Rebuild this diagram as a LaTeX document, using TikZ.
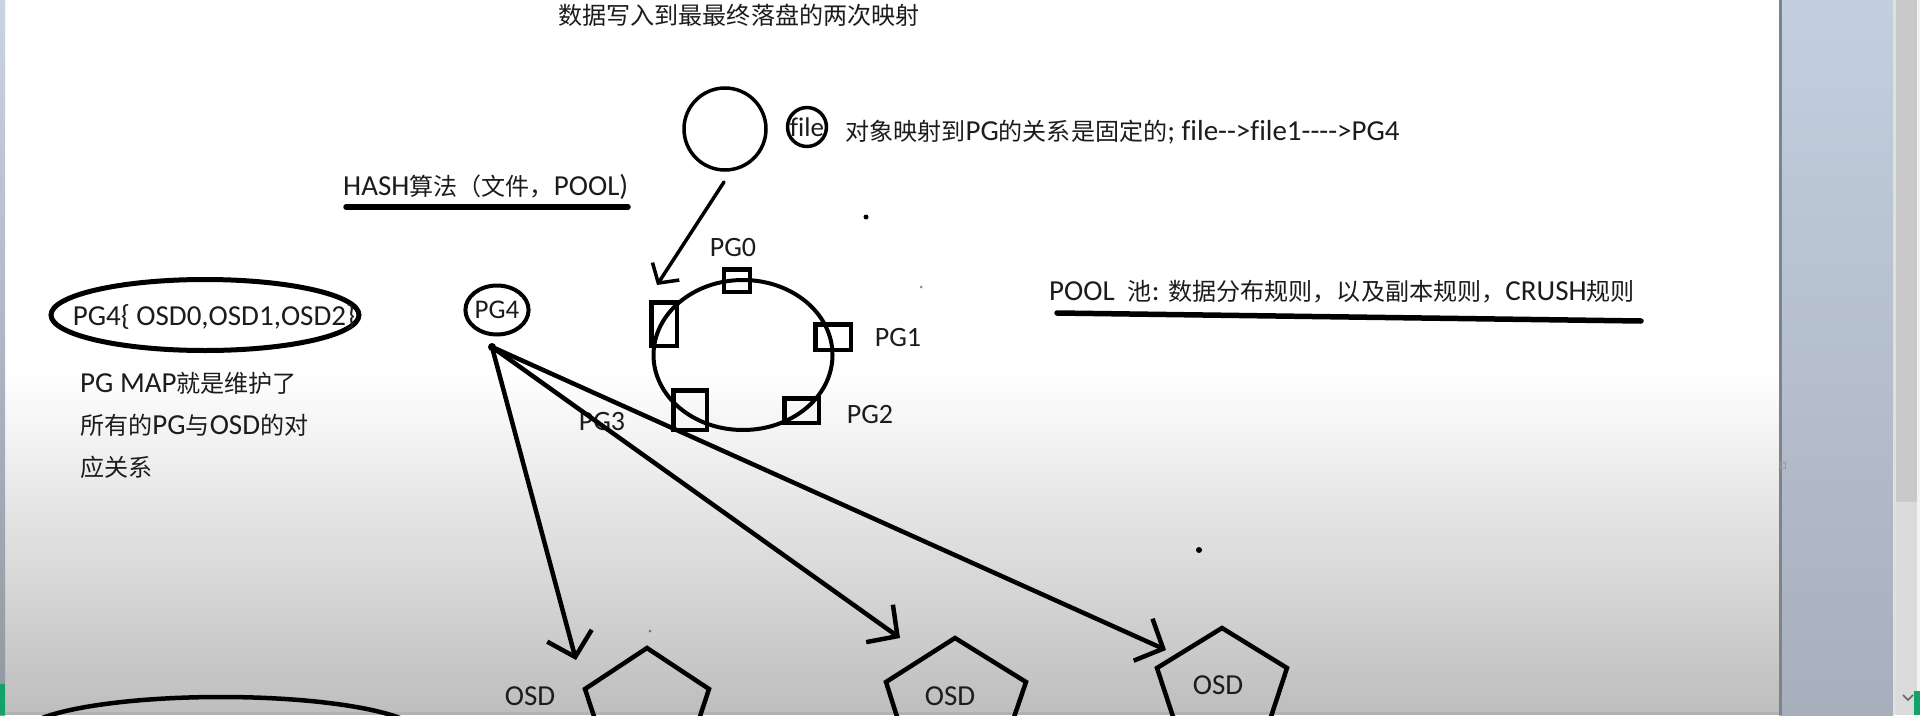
\documentclass[tikz,border=0pt]{standalone}
\usepackage{fontspec}
\setmainfont{Carlito}[Ligatures={TeX,NoCommon}]
\newfontfamily\cjkfont{Noto Sans CJK SC}[Scale=0.83]
\newcommand\zh[1]{{\cjkfont #1}}
\usetikzlibrary{arrows.meta,shapes.geometric}
\definecolor{ink}{HTML}{1C1C1C}
\definecolor{panelA}{HTML}{C3CFDF}
\definecolor{panelB}{HTML}{CEDAE6}
\definecolor{panelC}{HTML}{A7AFBC}
\definecolor{bggrey}{HTML}{BEBEBE}
\definecolor{greenbar}{HTML}{14A26B}
\begin{document}
\begin{tikzpicture}[x=1pt,y=-1pt,
  txt/.style={inner sep=0pt, anchor=west, text=ink, font=\fontsize{29}{34}\selectfont},
  lbl/.style={inner sep=0pt, text=ink, font=\fontsize{28}{32}\selectfont},
  shp/.style={draw=black, inner sep=0pt},
  box/.style={draw=black, line width=4.5pt, inner sep=0pt, rectangle},
  pent/.style={draw=black, line width=4.5pt, line join=miter},
  uline/.style={line width=5.5pt, line cap=round},
  bigarr/.style={line width=4.5pt, line cap=round, -{Straight Barb[length=22pt,width=46pt]}},
  smallarr/.style={line width=3.5pt, line cap=round, -{Straight Barb[length=14pt,width=32pt]}}
]
\useasboundingbox (0,0) rectangle (1920,715);
\begin{scope}
\clip (0,0) rectangle (1920,715);
% background
\fill[white] (0,0) rectangle (1779,372);
\shade[top color=white, bottom color=bggrey] (0,372) rectangle (1779,712);
\fill[black!30] (0,712) rectangle (1779,715);
\shade[top color=panelA!90!white, bottom color=panelC!80!black!90] (0,0) rectangle (5,715);
\fill[greenbar] (0,684) rectangle (5,715);
\shade[top color=panelA, middle color=panelB, bottom color=panelC] (1779,0) rectangle (1893,715);
\fill[black!25!panelC] (1779,0) rectangle (1782,715);
\draw[black!40, line width=0.8pt] (1780,462) rectangle (1785,468);
\fill[white!88!black] (1893,0) rectangle (1896,715);
\fill[black!21] (1896,0) rectangle (1917,502);
\fill[black!14] (1896,502) rectangle (1917,715);
\fill[white!95!black] (1917,0) rectangle (1920,715);
\fill[greenbar] (1914,691) rectangle (1920,715);
\draw[black!60, line width=1.5pt] (1903,695) -- (1908,700) -- (1913,695);

% title
\node[txt, anchor=center] (title) at (739,15) {\zh{数据写入到最最终落盘的两次映射}};

% object circle and file
\node[shp, circle, line width=3.5pt, minimum size=82pt] (obj) at (725,129) {};
\node[shp, circle, line width=3.5pt, minimum size=38pt, text=ink, font=\fontsize{27}{30}\selectfont] (file) at (807,127) {file};
\node[txt] (rel) at (845,132) {\zh{对象映射到}PG\zh{的关系是固定的}; file-{}->file1-{}-{}-{}->PG4};

% HASH
\node[txt] (hash) at (343,187) {HASH\zh{算法（文件，}POOL)};
\coordinate (hashL) at (346,207);
\coordinate (hashR) at (628,207);
\draw[uline] (hashL) -- (hashR);

% POOL
\node[txt] (pool) at (1049,292) {POOL\ \ \zh{池}: \zh{数据分布规则，以及副本规则，}CRUSH\zh{规则}};
\coordinate (poolL) at (1057,313);
\coordinate (poolR) at (1641,321);
\draw[uline] (poolL) -- (poolR);

% ring with PGs
\node[shp, ellipse, line width=4pt, minimum width=179pt, minimum height=150pt] (ring) at (743,355) {};
\node[box, minimum width=26pt, minimum height=22.5pt] (pg0box) at (737,280.5) {};
\node[box, minimum width=25.5pt, minimum height=43.5pt] (pgxbox) at (664,324) {};
\node[box, minimum width=35.5pt, minimum height=25.5pt] (pg1box) at (833,337) {};
\node[box, minimum width=34.5pt, minimum height=24.5pt] (pg2box) at (801.5,410.5) {};
\node[box, minimum width=33.5pt, minimum height=39.5pt] (pg3box) at (690,410) {};
\node[lbl] (pg0) at (733,248) {PG0};
\node[lbl] (pg1) at (898,338) {PG1};
\node[lbl] (pg2) at (870,415) {PG2};
\node[lbl] (pg3) at (602,422) {PG3};

% arrow object -> PG
\coordinate (fsrc) at (724,182);
\coordinate (ftip) at (657,285);
\draw[smallarr] (fsrc) -- (ftip);

% PG map ellipse
\node[shp, ellipse, line width=5pt, minimum width=308pt, minimum height=71pt] (mapell) at (205,315) {};
\node[txt, anchor=center] (pgmap) at (214,317) {PG4\{ OSD0,OSD1,OSD2\}};
\node[txt] (m1) at (80,383) {PG MAP\zh{就是维护了}};
\node[txt] (m2) at (80,425) {\zh{所有的}PG\zh{与}OSD\zh{的对}};
\node[txt] (m3) at (80,467) {\zh{应关系}};

% bottom ellipse (cut off)
\node[shp, ellipse, line width=4.5pt, minimum width=400pt, minimum height=76pt] (botell) at (221,735) {};

% PG4
\node[shp, ellipse, line width=4pt, minimum width=63pt, minimum height=49pt, text=ink, font=\fontsize{27}{30}\selectfont] (pg4) at (497,310) {PG4};

% OSD pentagons
\draw[pent] (647,648) -- (709,689) -- (685,762) -- (609,762) -- (585,689) -- cycle;
\draw[pent] (955,638) -- (1026,682) -- (998,764) -- (912,764) -- (886,682) -- cycle;
\draw[pent] (1222,628) -- (1287,668) -- (1262,744) -- (1182,744) -- (1157,668) -- cycle;
\node[txt, anchor=center] (osd1) at (530,696) {OSD};
\node[txt, anchor=center] (osd2) at (950,696) {OSD};
\node[txt, anchor=center] (osd3) at (1218,685) {OSD};

% arrows PG4 -> OSDs
\coordinate (psrc) at (492,347);
\coordinate (t1) at (576,660);
\coordinate (t2) at (900,638);
\coordinate (t3) at (1166,650);
\draw[bigarr] (psrc) -- (t1);
\draw[bigarr] (psrc) -- (t2);
\draw[bigarr] (psrc) -- (t3);
\fill (psrc) circle (4pt);

% stray dots
\fill (866,217) circle (2.5pt);
\fill (1199,550) circle (3pt);
\fill[black!45] (921,287) circle (1.5pt);
\fill[black!55] (650,631) circle (1.5pt);
\end{scope}
\end{tikzpicture}
\end{document}
